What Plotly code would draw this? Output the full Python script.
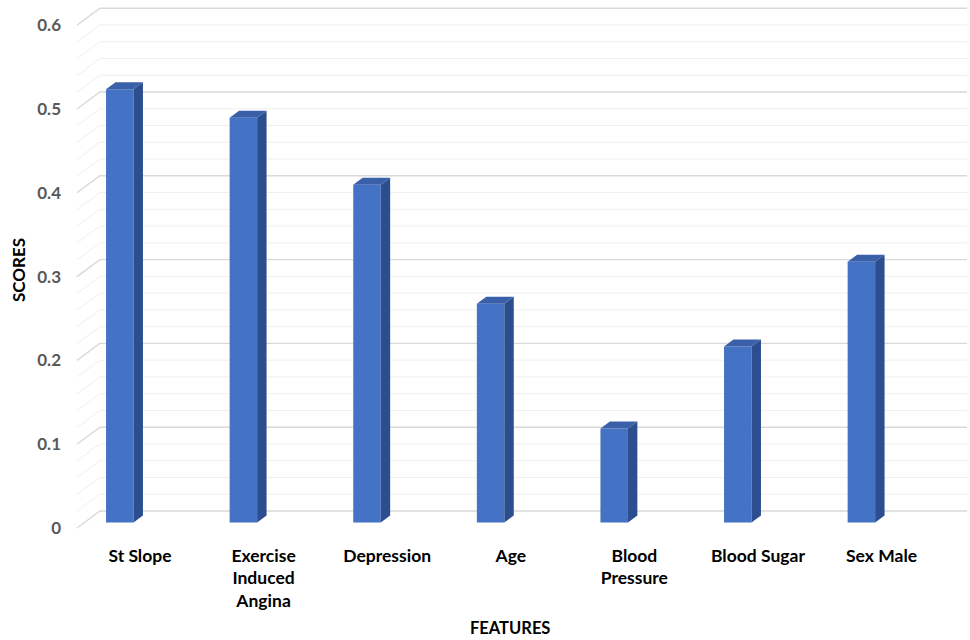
import plotly.graph_objects as go

# Feature importance scores
features = ["St Slope", "Exercise<br>Induced<br>Angina", "Depression", "Age",
            "Blood<br>Pressure", "Blood Sugar", "Sex Male"]
scores = [0.517, 0.483, 0.403, 0.261, 0.112, 0.210, 0.311]
y_ticks = [0, 0.1, 0.2, 0.3, 0.4, 0.5, 0.6]
y_tick_text = ["0", "0.1", "0.2", "0.3", "0.4", "0.5", "0.6"]

# Oblique 3D projection: depth 0 = front plane, depth 1 = back wall
DX = 0.186      # horizontal shift of the back wall (category units)
DY = 0.0203     # vertical shift of the back wall (value units)
BAR_D0, BAR_D1 = 0.33, 0.74   # bar front / back depth
BAR_W = 0.2225
BAR_OFF = -0.336

FRONT = "#4472C4"
SIDE = "#2C4D8E"
TOP = "#3A60AA"

def proj(x, y, d):
    return x + d * DX, y + d * DY

fig = go.Figure()

# Back wall and side wall gridlines
wall_left, wall_right = -0.51, 6.505
shapes = []
n_lines = 31
for k in range(n_lines):
    v = round(k * 0.02, 4)
    major = k % 5 == 0
    x0, y0 = proj(wall_left, v, 0)
    x1, y1 = proj(wall_left, v, 1)
    x2, y2 = proj(wall_right, v, 1)
    shapes.append(dict(
        type="path", xref="x", yref="y", layer="below",
        path=f"M{x0},{y0} L{x1},{y1} L{x2},{y2}",
        line=dict(color="#d9d9d9" if major else "#efefef", width=1.4 if major else 1),
    ))

# Bar front faces
xs = list(range(len(features)))
base = BAR_D0 * DY
fig.add_trace(go.Bar(
    x=xs, y=scores, base=base, width=BAR_W, offset=BAR_OFF + BAR_D0 * DX,
    marker=dict(color=FRONT, line=dict(width=0)), hoverinfo="skip",
))

# Side and top faces of each bar
side_x, side_y, top_x, top_y = [], [], [], []
for i, s in enumerate(scores):
    left = i + BAR_OFF
    right = left + BAR_W
    a = proj(right, 0, BAR_D0)
    b = proj(right, 0, BAR_D1)
    c = proj(right, s, BAR_D1)
    d = proj(right, s, BAR_D0)
    side_x += [a[0], b[0], c[0], d[0], a[0], None]
    side_y += [a[1], b[1], c[1], d[1], a[1], None]
    e = proj(left, s, BAR_D0)
    f = proj(left, s, BAR_D1)
    top_x += [e[0], f[0], c[0], d[0], e[0], None]
    top_y += [e[1], f[1], c[1], d[1], e[1], None]

fig.add_trace(go.Scatter(x=side_x, y=side_y, mode="lines", fill="toself",
                         fillcolor=SIDE, line=dict(width=0, color=SIDE),
                         hoverinfo="skip"))
fig.add_trace(go.Scatter(x=top_x, y=top_y, mode="lines", fill="toself",
                         fillcolor=TOP, line=dict(width=0, color=TOP),
                         hoverinfo="skip"))

px_per_slot = 123.6
px_per_val = 838.0
W, H = 970, 640
ml, mr, mt, mb = 72, 2, 0, 95
x0r = -0.55
x1r = x0r + (W - ml - mr) / px_per_slot
y1r = 528 / px_per_val
y0r = y1r - (H - mt - mb) / px_per_val

fig.update_layout(
    width=W, height=H,
    margin=dict(l=ml, r=mr, t=mt, b=mb),
    paper_bgcolor="white", plot_bgcolor="white",
    showlegend=False,
    shapes=shapes,
    font=dict(family="Lato", color="#000000"),
    xaxis=dict(range=[x0r, x1r], tickmode="array", tickvals=xs, ticktext=features,
               showgrid=False, zeroline=False, showline=False, ticks="",
               ticklabelstandoff=-2,
               tickfont=dict(family="Lato", size=17.5, color="#000000", weight="bold"),
               automargin=False, fixedrange=True),
    yaxis=dict(range=[y0r, y1r], tickmode="array", tickvals=y_ticks, ticktext=y_tick_text,
               showgrid=False, zeroline=False, showline=False, ticks="",
               ticklabelstandoff=10,
               tickfont=dict(family="Lato", size=17, color="#595959", weight="bold"),
               automargin=False, fixedrange=True),
    annotations=[
        dict(text="<b>FEATURES</b>", xref="paper", yref="paper", x=(510 - ml) / (W - ml - mr),
             y=-(628 - (H - mb)) / (H - mt - mb), showarrow=False,
             font=dict(family="Lato", size=16.5, color="#000000"), xanchor="center", yanchor="middle"),
        dict(text="<b>SCORES</b>", xref="paper", yref="paper", x=-(ml - 18) / (W - ml - mr),
             y=(H - mb - 270) / (H - mt - mb), showarrow=False, textangle=-90,
             font=dict(family="Lato", size=17, color="#000000"), xanchor="center", yanchor="middle"),
    ],
)

fig.write_html("out.html")
